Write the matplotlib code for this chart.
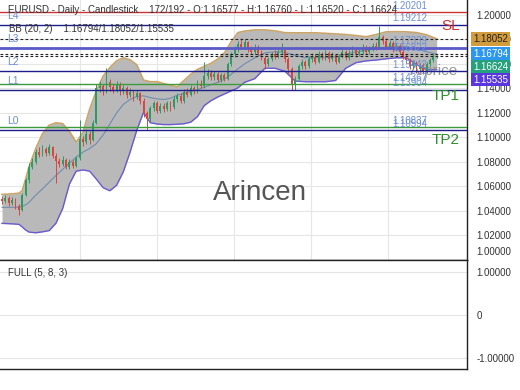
import matplotlib
matplotlib.use('Agg')
import matplotlib.pyplot as plt
from matplotlib.transforms import ScaledTranslation

plt.rcParams['font.family'] = ['Liberation Sans', 'DejaVu Sans']

header_text = "EURUSD - Daily - Candlestick    172/192 - O:1.16577 - H:1.16760 - L:1.16520 - C:1.16624"
bb_text = "BB (20, 2)    1.16794/1.18052/1.15535"
osc_text = "FULL (5, 8, 3)"

# daily candles (open = previous close)
first_open = 1.0500
closes = [
    1.0480, 1.0505, 1.0465, 1.0490, 1.0440, 1.0410, 1.0530, 1.0650, 1.0760, 1.0800,
    1.0880, 1.0860, 1.0905, 1.0870, 1.0920, 1.0850, 1.0810, 1.0780, 1.0820, 1.0760,
    1.0800, 1.0770, 1.0830, 1.0990, 1.0960, 1.1030, 1.0980, 1.1120, 1.1400, 1.1420,
    1.1380, 1.1450, 1.1410, 1.1390, 1.1430, 1.1380, 1.1400, 1.1350, 1.1370, 1.1330,
    1.1360, 1.1300, 1.1200, 1.1150, 1.1240, 1.1280, 1.1220, 1.1260, 1.1230, 1.1280,
    1.1250, 1.1310, 1.1340, 1.1300, 1.1370, 1.1350, 1.1400, 1.1380, 1.1440, 1.1420,
    1.1500, 1.1530, 1.1490, 1.1520, 1.1470, 1.1510, 1.1480, 1.1600, 1.1680, 1.1720,
    1.1760, 1.1740, 1.1780, 1.1720, 1.1700, 1.1740, 1.1690, 1.1650, 1.1600, 1.1640,
    1.1680, 1.1660, 1.1700, 1.1710, 1.1640, 1.1560, 1.1430, 1.1480, 1.1580, 1.1620,
    1.1580, 1.1640, 1.1660, 1.1620, 1.1680, 1.1650, 1.1690, 1.1640, 1.1670, 1.1620,
    1.1660, 1.1700, 1.1650, 1.1690, 1.1720, 1.1680, 1.1700, 1.1740, 1.1700, 1.1720,
    1.1750, 1.1730, 1.1820, 1.1790, 1.1740, 1.1770, 1.1720, 1.1750, 1.1700, 1.1660,
    1.1630, 1.1580, 1.1610, 1.1560, 1.1590, 1.1540, 1.1600, 1.1630, 1.16577, 1.16624,
]
highs = [
    1.0525, 1.0530, 1.0520, 1.0515, 1.0505, 1.0460, 1.0545, 1.0670, 1.0790, 1.0830,
    1.0910, 1.0925, 1.0935, 1.0920, 1.0945, 1.0930, 1.0870, 1.0830, 1.0845, 1.0835,
    1.0825, 1.0815, 1.0850, 1.1146, 1.1010, 1.1070, 1.1050, 1.1140, 1.1440, 1.1460,
    1.1440, 1.1570, 1.1480, 1.1440, 1.1460, 1.1450, 1.1430, 1.1420, 1.1400, 1.1390,
    1.1385, 1.1375, 1.1320, 1.1220, 1.1260, 1.1300, 1.1295, 1.1285, 1.1280, 1.1300,
    1.1295, 1.1335, 1.1365, 1.1360, 1.1395, 1.1400, 1.1425, 1.1420, 1.1470, 1.1465,
    1.1620, 1.1560, 1.1550, 1.1545, 1.1535, 1.1530, 1.1525, 1.1620, 1.1700, 1.1750,
    1.1785, 1.1810, 1.1800, 1.1790, 1.1745, 1.1765, 1.1755, 1.1710, 1.1665, 1.1660,
    1.1700, 1.1710, 1.1725, 1.1770, 1.1725, 1.1655, 1.1575, 1.1500, 1.1600, 1.1640,
    1.1635, 1.1665, 1.1690, 1.1680, 1.1705, 1.1700, 1.1715, 1.1705, 1.1695, 1.1685,
    1.1685, 1.1725, 1.1715, 1.1715, 1.1745, 1.1735, 1.1725, 1.1760, 1.1755, 1.1745,
    1.1775, 1.1780, 1.1910, 1.1840, 1.1810, 1.1795, 1.1785, 1.1770, 1.1765, 1.1720,
    1.1680, 1.1650, 1.1630, 1.1625, 1.1610, 1.1605, 1.1620, 1.1650, 1.1680, 1.16760,
]
lows = [
    1.0455, 1.0465, 1.0440, 1.0450, 1.0420, 1.0370, 1.0400, 1.0520, 1.0630, 1.0740,
    1.0785, 1.0840, 1.0845, 1.0850, 1.0855, 1.0830, 1.0630, 1.0760, 1.0765, 1.0740,
    1.0745, 1.0750, 1.0760, 1.0820, 1.0930, 1.0945, 1.0950, 1.0970, 1.1110, 1.1370,
    1.1350, 1.1360, 1.1380, 1.1360, 1.1370, 1.1350, 1.1355, 1.1320, 1.1330, 1.1300,
    1.1310, 1.1270, 1.1170, 1.1064, 1.1130, 1.1220, 1.1200, 1.1200, 1.1205, 1.1215,
    1.1215, 1.1235, 1.1290, 1.1280, 1.1285, 1.1330, 1.1335, 1.1355, 1.1365, 1.1400,
    1.1405, 1.1480, 1.1470, 1.1470, 1.1450, 1.1455, 1.1460, 1.1470, 1.1585, 1.1660,
    1.1700, 1.1720, 1.1720, 1.1700, 1.1680, 1.1685, 1.1670, 1.1630, 1.1560, 1.1585,
    1.1625, 1.1640, 1.1645, 1.1680, 1.1620, 1.1530, 1.1390, 1.1390, 1.1470, 1.1560,
    1.1560, 1.1570, 1.1620, 1.1600, 1.1605, 1.1630, 1.1635, 1.1620, 1.1625, 1.1600,
    1.1605, 1.1645, 1.1630, 1.1635, 1.1675, 1.1660, 1.1665, 1.1685, 1.1680, 1.1685,
    1.1705, 1.1710, 1.1720, 1.1765, 1.1720, 1.1725, 1.1700, 1.1705, 1.1680, 1.1640,
    1.1610, 1.1560, 1.1560, 1.1530, 1.1540, 1.1520, 1.1525, 1.1585, 1.1615, 1.16520,
]

# Bollinger band (20, 2) read at these candle indices
band_idx = [0, 3, 5, 6, 7, 8,
            10, 12, 14, 16, 18, 20, 22, 24, 26, 28, 30, 32, 34, 36, 38, 40,
            42, 44, 46, 48, 50, 52, 54, 56, 58, 60, 62, 64, 66, 68, 70, 72,
            75, 78, 81, 84, 87, 90, 93, 96, 99, 102, 105, 108, 111, 114, 117,
            120, 123, 126, 129]
bb_upper = [1.0535, 1.0540, 1.0545, 1.0565, 1.0660, 1.0760,
            1.0910, 1.1030, 1.1100, 1.1120, 1.1113, 1.1050, 1.0962, 1.1040, 1.1230, 1.1380, 1.1500, 1.1570, 1.1625, 1.1650, 1.1634, 1.1593,
            1.1468, 1.1455, 1.1455, 1.1440, 1.1425, 1.1414, 1.1465, 1.1515, 1.1555, 1.1580, 1.1605, 1.1640, 1.1690, 1.1780, 1.1856, 1.1868,
            1.1878, 1.1878, 1.1870, 1.1855, 1.1854, 1.1854, 1.1854, 1.1850, 1.1845, 1.1840, 1.1832, 1.1822, 1.1840, 1.1862, 1.1864,
            1.1862, 1.1856, 1.1838, 1.18052]
bb_mid = [1.0430, 1.0430, 1.0432, 1.0438, 1.0450, 1.0470,
          1.0530, 1.0580, 1.0635, 1.0690, 1.0740, 1.0790, 1.0840, 1.0880, 1.0910, 1.0950, 1.1020, 1.1110, 1.1200, 1.1270, 1.1310, 1.1335,
          1.1340, 1.1325, 1.1315, 1.1310, 1.1320, 1.1345, 1.1360, 1.1375, 1.1390, 1.1410, 1.1430, 1.1450, 1.1475, 1.1515, 1.1560, 1.1600,
          1.1650, 1.1690, 1.1700, 1.1695, 1.1670, 1.1650, 1.1650, 1.1652, 1.1655, 1.1680, 1.1700, 1.1710, 1.1722, 1.1740, 1.1745,
          1.1740, 1.1722, 1.1700, 1.16794]
bb_lower = [1.0299, 1.0295, 1.0291, 1.0270, 1.0245, 1.0228,
            1.0222, 1.0230, 1.0240, 1.0300, 1.0420, 1.0620, 1.0725, 1.0735, 1.0725, 1.0660, 1.0590, 1.0565, 1.0610, 1.0720, 1.0880, 1.1060,
            1.1205, 1.1120, 1.1110, 1.1105, 1.1105, 1.1108, 1.1112, 1.1125, 1.1170, 1.1260, 1.1300, 1.1330, 1.1355, 1.1380, 1.1405, 1.1450,
            1.1480, 1.1565, 1.1565, 1.1540, 1.1460, 1.1455, 1.1455, 1.1455, 1.1465, 1.1565, 1.1610, 1.1625, 1.1632, 1.1642, 1.1650,
            1.1650, 1.1595, 1.1552, 1.15535]

# support / resistance levels
level_names = ['L4', 'L3', 'L2', 'L1', 'L0']
level_prices = [1.19212, 1.17339, 1.15442, 1.13904, 1.10594]
stop_price = 1.20201
target_names = ['TP1', 'TP2']
target_prices = [1.14367, 1.10837]
dashed_prices = [1.18052, 1.16794, 1.16624]
extra_label_prices = [1.16822]

# right-hand price badges
badge_values = [1.18052, 1.16794, 1.16624, 1.15535]
badge_colors = ['#d29b3c', '#2d97f0', '#26a17d', '#5a36e0']

price_ticks = [1.00, 1.02, 1.04, 1.06, 1.08, 1.10, 1.12, 1.14, 1.16, 1.18, 1.20]
date_grid = [23.1, 46.0, 68.8, 91.7, 114.5]

label_blue = '#6d8fd4'
navy = '#1d1d8c'

fig = plt.figure(figsize=(5.2, 3.9), dpi=100)
ax = fig.add_axes([0.0, 1 - 260 / 390, 467 / 520, 260 / 390])
ax2 = fig.add_axes([0.0, 1 - 369 / 390, 467 / 520, 109 / 390], sharex=ax)

n = len(closes)
xs = list(range(n))
opens = [first_open] + closes[:-1]
up = [c >= o for o, c in zip(opens, closes)]
colors = ['#2f9a62' if u else '#d9463f' for u in up]

# bands
ax.fill_between(band_idx, bb_lower, bb_upper, color='#b9b9b9', lw=0, zorder=1)
ax.plot(band_idx, bb_upper, color='#c9a56a', lw=1.2, zorder=2)
ax.plot(band_idx, bb_lower, color='#6a5ad0', lw=1.0, zorder=2)
ax.plot(band_idx, bb_mid, color='#6f8db0', lw=0.8, zorder=2)

# candles
ax.vlines(xs, lows, highs, colors=colors, lw=0.7, zorder=4)
bodies = [max(abs(c - o), 0.0003) for o, c in zip(opens, closes)]
bottoms = [min(o, c) for o, c in zip(opens, closes)]
ax.bar(xs, bodies, bottom=bottoms, width=0.55, color=colors, lw=0, zorder=4)

# horizontal level lines
ytr = ax.get_yaxis_transform()
ax.axhline(stop_price, color='#cc3333', lw=1, zorder=5)
for name, p in zip(level_names, level_prices):
    ax.axhline(p, color='#5a5ac8' if name == 'L3' else navy,
               lw=2 if name == 'L3' else 1, zorder=5)
    ax.annotate(name, xy=(7 / 467, p), xycoords=ytr, xytext=(0, 6.5),
                textcoords='offset points', va='center', ha='left',
                fontsize=7.5, color=label_blue, zorder=6)
for p in target_prices:
    ax.axhline(p, color='#3c9a3c', lw=1, zorder=5)
for p in dashed_prices:
    ax.axhline(p, color='#222222', lw=0.8, ls=(0, (2.5, 2)), zorder=5)

# price labels on the lines
for p in [stop_price] + level_prices + target_prices + extra_label_prices:
    ax.annotate(f'{p:.5f}', xy=(392 / 467, p), xycoords=ytr, xytext=(0, 4.5),
                textcoords='offset points', va='center', ha='left',
                fontsize=7, color=label_blue, zorder=6)

# SL / TP tags
ax.annotate('SL', xy=(460 / 467, stop_price), xycoords=ytr, xytext=(0, -10),
            textcoords='offset points', va='center', ha='right',
            fontsize=11, color='#d03030', zorder=6)
for name, p in zip(target_names, target_prices):
    ax.annotate(name, xy=(460 / 467, p), xycoords=ytr, xytext=(0, -9),
                textcoords='offset points', va='center', ha='right',
                fontsize=11, color='#2f8f2f', zorder=6)

# watermark texts
ax.text(260 / 467, 1 - 193 / 260, 'Arincen', transform=ax.transAxes,
        ha='center', va='center', fontsize=20, color='#555555', zorder=3)
ax.text(410 / 467, 1 - 71 / 260, 'Arprice', transform=ax.transAxes,
        ha='left', va='center', fontsize=11, color='#8c8c8c', alpha=0.9, zorder=3)

ax.text(8 / 467, 1 - 10 / 260, header_text, transform=ax.transAxes,
        ha='left', va='center', fontsize=7, color='#333333', zorder=7)
ax.text(9 / 467, 1 - 29 / 260, bb_text, transform=ax.transAxes,
        ha='left', va='center', fontsize=7, color='#333333', zorder=7)

# axes styling
ax.set_xlim(-0.6, 138.0)
ax.set_ylim(1.0007, 1.2122)
ax.yaxis.tick_right()
ax.set_yticks(price_ticks)
ax.set_yticklabels([f'{t:.5f}' for t in price_ticks])
ax.tick_params(axis='y', length=0, pad=7, labelsize=7, labelcolor='#333333')
first_lbl = ax.get_yticklabels()[0]
first_lbl.set_transform(first_lbl.get_transform() + ScaledTranslation(0, 9 / 100, fig.dpi_scale_trans))
ax.set_xticks(date_grid)
ax.tick_params(axis='x', length=0, labelbottom=False)
ax.grid(True, color='#e6e6e6', lw=0.8, zorder=0)
ax.set_axisbelow(True)
for side in ['top', 'left']:
    ax.spines[side].set_visible(False)
for side in ['right', 'bottom']:
    ax.spines[side].set_color('#222222')
    ax.spines[side].set_linewidth(1)

# price badges, pushed down so they do not overlap
gap = 12.7 / 1229
shown = []
for v in badge_values:
    pos = v if not shown else min(v, shown[-1] - gap)
    shown.append(pos)
for v, pos, c in zip(badge_values, shown, badge_colors):
    ax.text(1 + 6 / 467, pos, f'{v:.5f}', transform=ytr, ha='left', va='center',
            fontsize=7, color='#222222' if c == '#d29b3c' else 'white', clip_on=False,
            bbox=dict(boxstyle='square,pad=0.2', fc=c, ec='none'), zorder=8)

# lower oscillator panel (empty)
ax2.set_ylim(-1.256, 1.279)
ax2.yaxis.tick_right()
ax2.set_yticks([1, 0, -1])
ax2.set_yticklabels(['1.00000', '0', '-1.00000'])
ax2.tick_params(axis='y', length=0, pad=7, labelsize=7, labelcolor='#333333')
ax2.tick_params(axis='x', length=0, labelbottom=False)
ax2.grid(False)
ax2.yaxis.grid(True, color='#e6e6e6', lw=0.8)
ax2.spines['left'].set_visible(False)
for side in ['right', 'bottom', 'top']:
    ax2.spines[side].set_color('#222222')
    ax2.spines[side].set_linewidth(1)
ax2.text(8 / 467, 1 - 13 / 109, osc_text, transform=ax2.transAxes,
         ha='left', va='center', fontsize=7, color='#333333')

fig.savefig('out.png', dpi=100)
